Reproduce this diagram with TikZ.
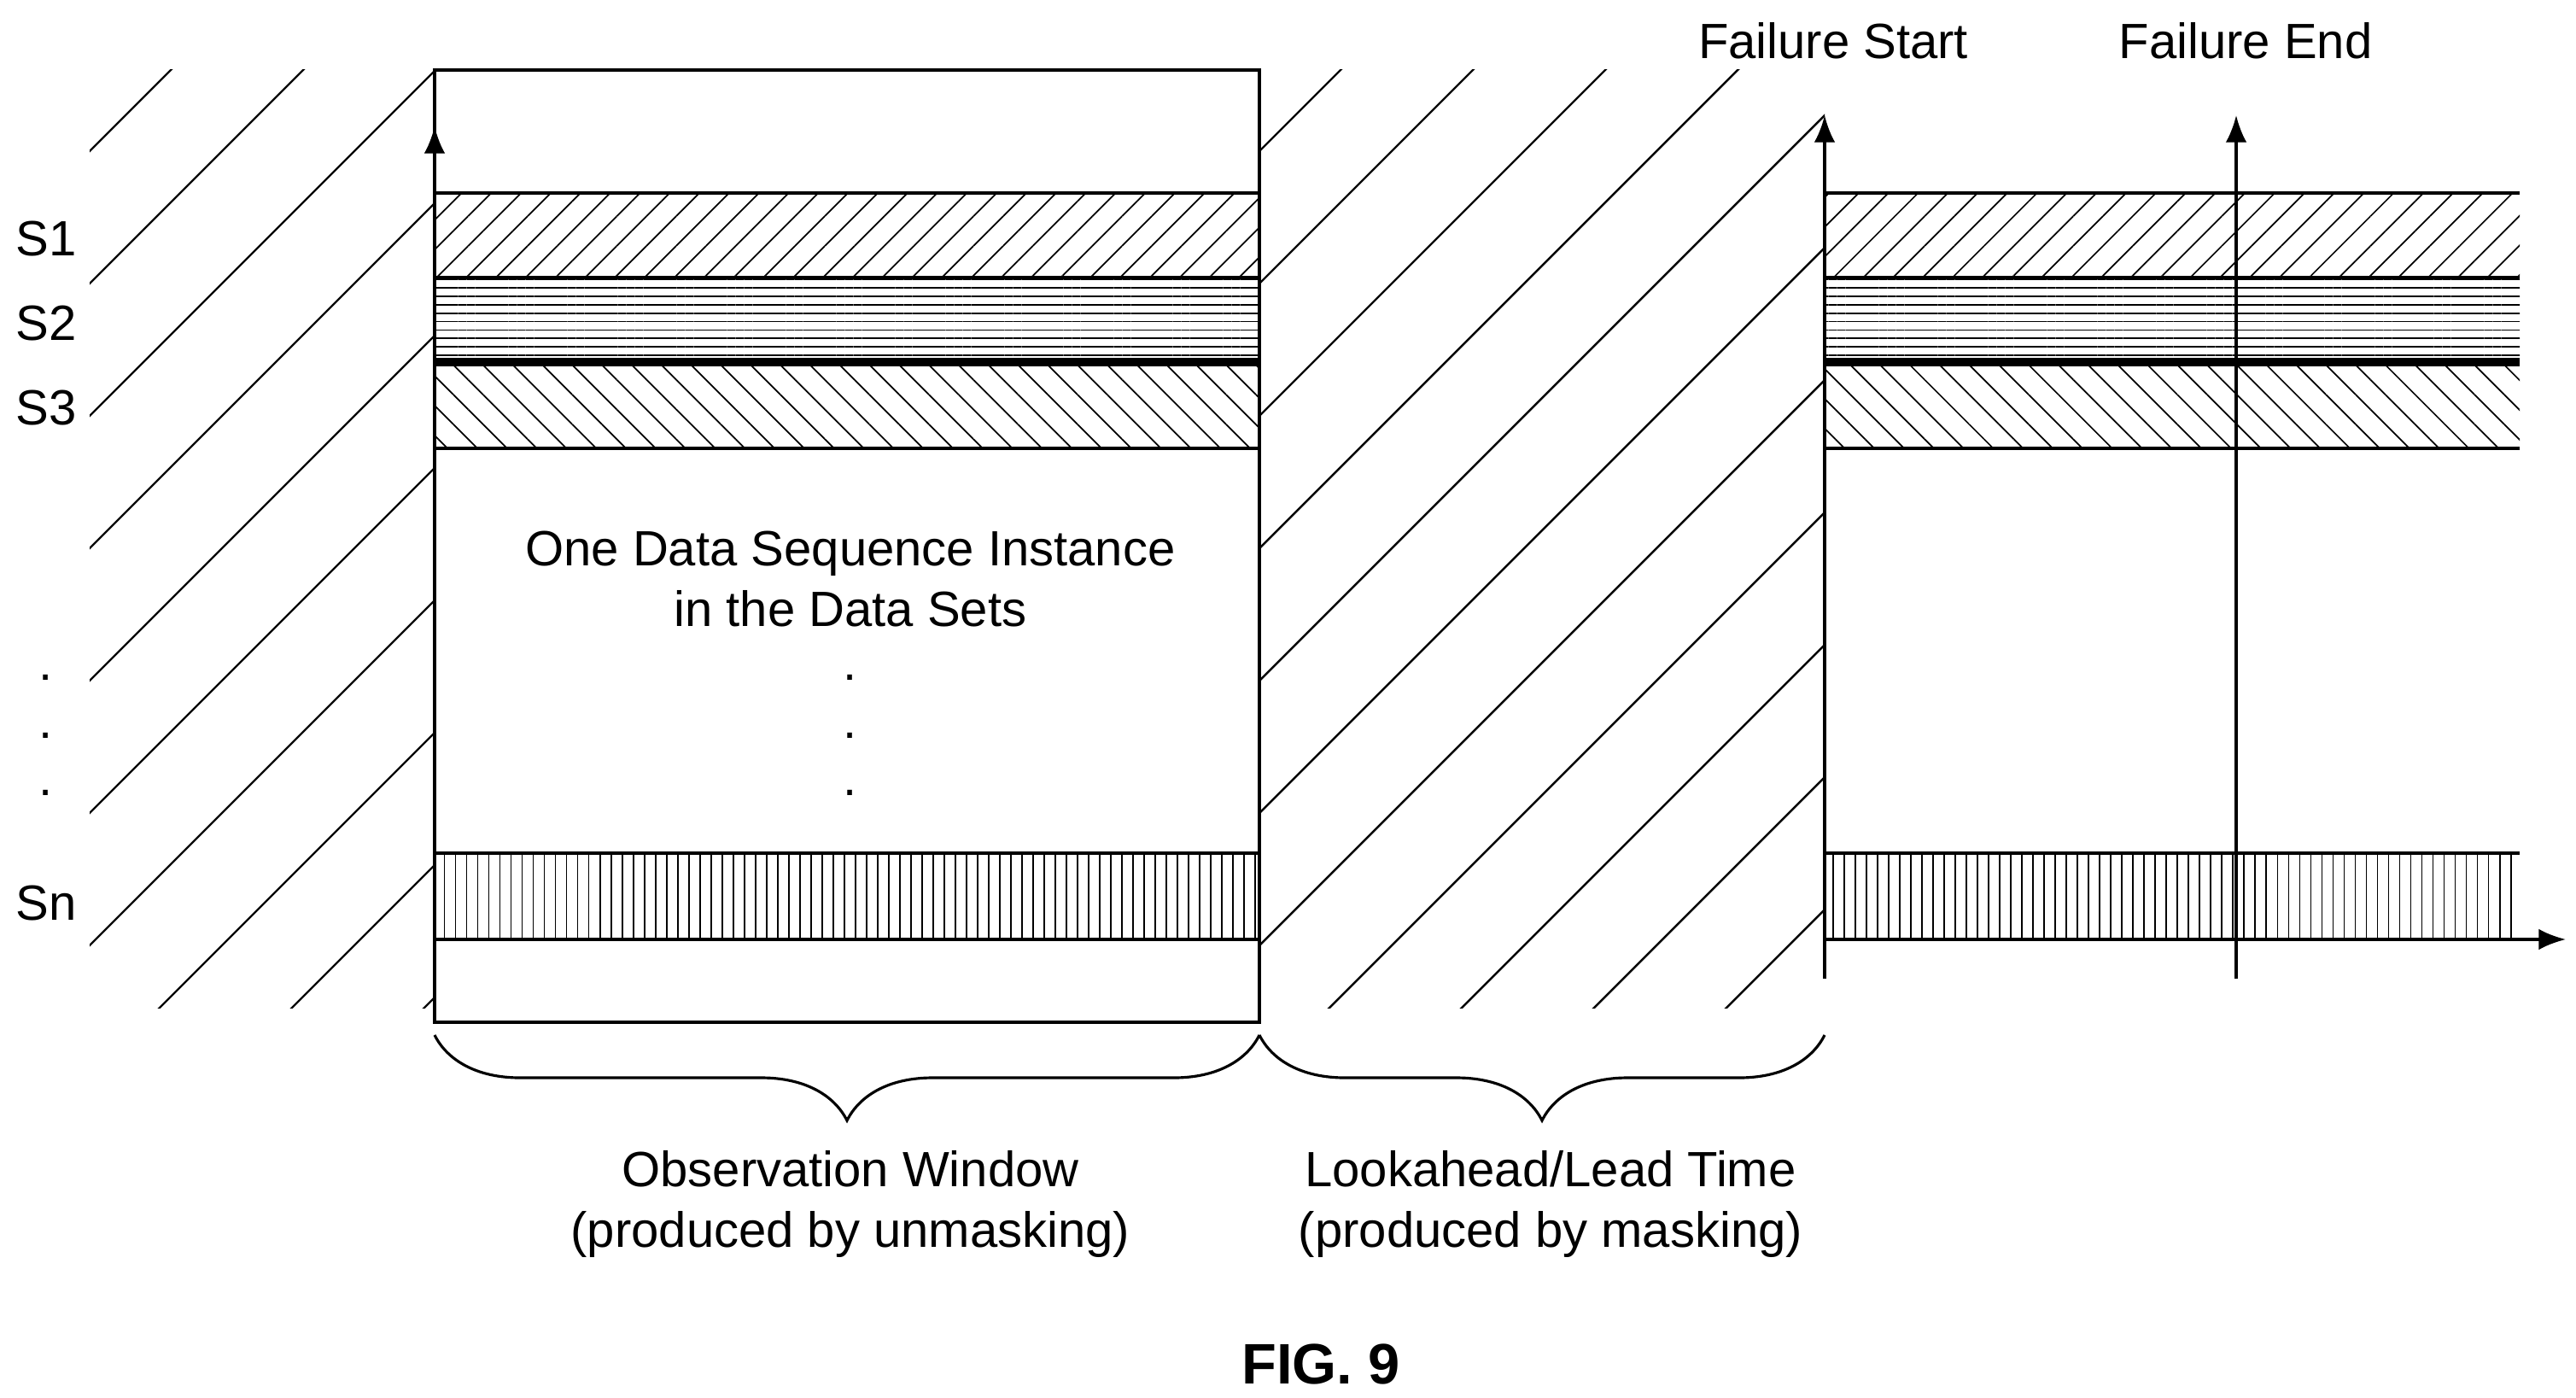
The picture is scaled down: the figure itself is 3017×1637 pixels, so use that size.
\documentclass[tikz,border=0pt]{standalone}
\usepackage{fontspec}
\setmainfont{Liberation Sans}
\usetikzlibrary{patterns.meta,decorations.pathreplacing,arrows.meta}

\begin{document}
\begin{tikzpicture}
    [
        x=0.01cm, y=-0.01cm,
        band/.style={line width=0.9pt},
        hatch/.style={line width=0.7pt},
        axis/.style={line width=1pt, -{Latex[length=9pt,width=7pt]}},
        label text/.style={font=\fontsize{16.5}{20}\selectfont},
        brace style/.style={decorate, decoration={brace, mirror, amplitude=1cm}, line width=0.9pt}
    ]
    \useasboundingbox (0,0) rectangle (3017,1637);
    % hatched gaps
    \begin{scope}
        \clip (105,82) rectangle (509,1180);
        \foreach \c in {282,437,...,1800} \draw[hatch] (\c,0) -- (\c-1300,1300);
    \end{scope}
    \begin{scope}
        \clip (1475,82) rectangle (2137,1180);
        \foreach \c in {1652,1807,...,3600} \draw[hatch] (\c,0) -- (\c-1300,1300);
    \end{scope}
    % observation window
    \draw[band] (509,82) rectangle (1475,1197);
    \foreach \xa/\xb in {509/1475, 2137/2951} {
        \path[pattern={Lines[angle=45,distance=7pt,line width=0.5pt]}] (\xa,226) rectangle (\xb,325);
        \path[pattern={Lines[angle=0,distance=2.8pt,line width=0.5pt]}] (\xa,325) rectangle (\xb,421);
        \path[pattern={Lines[angle=-45,distance=7pt,line width=0.5pt]}] (\xa,427) rectangle (\xb,525);
        \path[pattern={Lines[angle=90,distance=3.7pt,line width=0.5pt]}] (\xa,999) rectangle (\xb,1100);
        \foreach \y in {226,325,421,427,525,999,1100} \draw[band] (\xa,\y) -- (\xb,\y);
        \draw[line width=2pt] (\xa,424) -- (\xb,424);
    }
    % axes
    \coordinate (obs bottom) at (509,1197);
    \coordinate (obs top) at (509,148);
    \coordinate (fs bottom) at (2137,1146);
    \coordinate (fs top) at (2137,135);
    \coordinate (fe bottom) at (2619,1146);
    \coordinate (fe top) at (2619,135);
    \coordinate (t start) at (2137,1100);
    \coordinate (t end) at (3005,1100);
    \draw[axis] (obs bottom) -- (obs top);
    \draw[axis] (fs bottom) -- (fs top);
    \draw[axis] (fe bottom) -- (fe top);
    \draw[axis] (t start) -- (t end);
    \node[label text] (fail start) at (2147,48) {Failure Start};
    \node[label text] (fail end) at (2630,48) {Failure End};
    % signals
    \node[label text] (s1) at (54,280) {S1};
    \node[label text] (s2) at (54,379) {S2};
    \node[label text] (s3) at (54,478) {S3};
    \node[label text] (sn) at (54,1058) {Sn};
    \foreach \y in {793,861,928} {
        \node[label text] at (54,\y) {.};
        \node[label text] at (996,\y) {.};
    }
    \node[label text, align=center] (instance) at (996,678) {One Data Sequence Instance\\in the Data Sets};
    % windows
    \draw[brace style] (509,1212) -- (1475,1212);
    \draw[brace style] (1475,1212) -- (2137,1212);
    \node[label text, align=center] (obs label) at (996,1410) {Observation Window\\(produced by unmasking)};
    \node[label text, align=center] (lead label) at (1816,1410) {Lookahead/Lead Time\\(produced by masking)};
    \node[font=\fontsize{19}{22}\selectfont\bfseries] (fig) at (1547,1597) {FIG. 9};
\end{tikzpicture}
\end{document}
